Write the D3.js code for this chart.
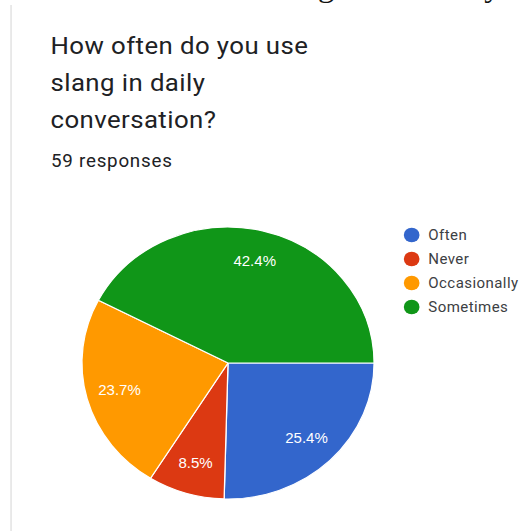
<!DOCTYPE html>
<html>
<head>
<meta charset="utf-8">
<script src="https://cdn.jsdelivr.net/npm/d3@7"></script>
<style>
  html, body { margin: 0; padding: 0; background: #fff; }
  svg { display: block; }
</style>
</head>
<body>
<svg id="chart" width="519" height="531"></svg>
<script>
// Survey answers
const categories = ["Often", "Never", "Occasionally", "Sometimes"];
const responses = [15, 5, 14, 25];
const colors = ["#3366cc", "#dc3912", "#ff9900", "#109618"];
const titleLines = ["How often do you use", "slang in daily", "conversation?"];
const subtitle = "59 responses";

const svg = d3.select("#chart");
const H = 531;
const S = 1.074; // the whole card is drawn slightly widened

const root = svg.append("g").attr("transform", `scale(${S},1)`);

// Tail of the page text running above the card
root.append("text").attr("x", 296).attr("y", -3)
  .attr("font-family", "Liberation Serif").attr("font-size", 30).attr("fill", "#111").text("g");
root.append("text").attr("x", 451).attr("y", -3)
  .attr("font-family", "Liberation Serif").attr("font-size", 30).attr("fill", "#111").text("y");

// Card left border
root.append("line").attr("x1", 10.3).attr("x2", 10.3).attr("y1", 5).attr("y2", H)
  .attr("stroke", "#e3e3e3").attr("stroke-width", 1.4);

// Title
root.append("g").selectAll("text").data(titleLines).join("text")
  .attr("x", 47).attr("y", (d, i) => 54.5 + i * 36.6)
  .attr("font-family", "Roboto").attr("font-size", 24).attr("fill", "#202124")
  .attr("letter-spacing", 0.4)
  .text(d => d);

root.append("text").attr("x", 47.5).attr("y", 167.5)
  .attr("font-family", "Roboto").attr("font-size", 17.5).attr("fill", "#202124")
  .attr("letter-spacing", 0.7)
  .text(subtitle);

// Pie
const total = d3.sum(responses);
const r = 136;
const cx = 212.3, cy = 363;
const color = d3.scaleOrdinal().domain(categories).range(colors);
const pie = d3.pie().sort(null).value(d => d.v)
  .startAngle(Math.PI / 2).endAngle(Math.PI / 2 + 2 * Math.PI);
const arcs = pie(categories.map((c, i) => ({ c, v: responses[i] })));
const arc = d3.arc().innerRadius(0).outerRadius(r);
const labelArc = d3.arc().innerRadius(r * 0.77).outerRadius(r * 0.77);

const pg = root.append("g").attr("transform", `translate(${cx},${cy})`);
pg.selectAll("path").data(arcs).join("path")
  .attr("d", arc)
  .attr("fill", d => color(d.data.c))
  .attr("stroke", "#fff").attr("stroke-width", 1.2);

pg.selectAll("text").data(arcs).join("text")
  .attr("transform", d => `translate(${labelArc.centroid(d)})`)
  .attr("text-anchor", "middle").attr("dy", "0.35em")
  .attr("font-family", "Arial, Liberation Sans").attr("font-size", 14)
  .attr("fill", "#fff")
  .text(d => d3.format(".1%")(d.data.v / total));

// Legend
const lg = root.append("g").attr("transform", "translate(383.3,235)");
const items = lg.selectAll("g").data(categories).join("g")
  .attr("transform", (d, i) => `translate(0,${i * 24})`);
items.append("circle").attr("r", 7.3).attr("fill", d => color(d));
items.append("text").attr("x", 15.5).attr("dy", "0.36em")
  .attr("font-family", "Roboto").attr("font-size", 14).attr("fill", "#3c4043")
  .attr("letter-spacing", 0.4)
  .text(d => d);
</script>
</body>
</html>
